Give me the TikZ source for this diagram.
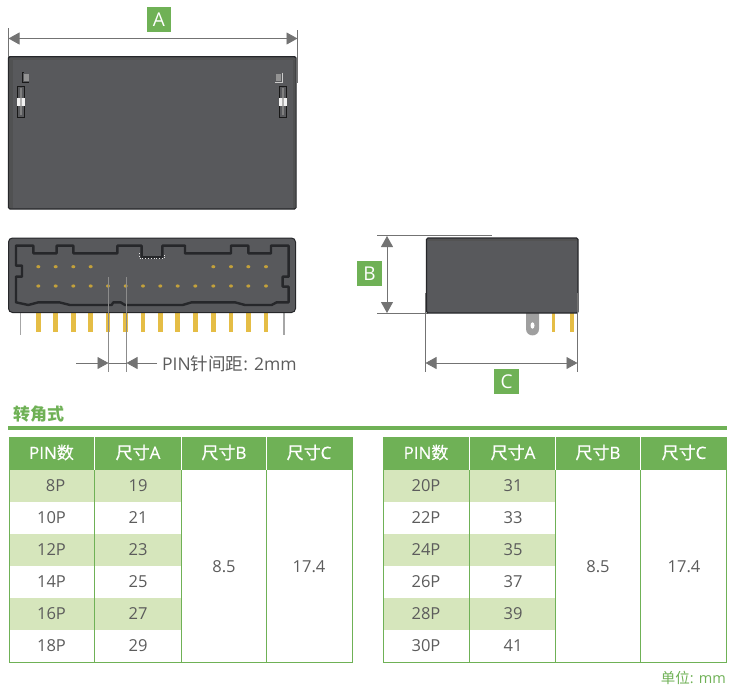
\documentclass[tikz,border=0pt]{standalone}
\usepackage{fontspec}
\setmainfont{Open Sans}
\newfontfamily\cjk{Noto Sans CJK SC}
\newfontfamily\headlat[FakeBold=0.35]{Open Sans}
\newfontfamily\headcjk[FakeBold=0.35]{Noto Sans CJK SC}
\usetikzlibrary{arrows.meta}
\definecolor{gr}{HTML}{6FB156}
\definecolor{lgr}{HTML}{D6E6BC}
\definecolor{txt}{HTML}{5C5C5C}
\definecolor{dim}{HTML}{737373}
\definecolor{body}{HTML}{58595C}
\definecolor{edge}{HTML}{26272A}
\definecolor{pin}{HTML}{E5BD45}
\tikzset{
  lab/.style={fill=gr,text=white,minimum width=24.5pt,minimum height=25pt,inner sep=0pt,font=\fontsize{19}{19}\selectfont},
  dimline/.style={draw=dim,line width=.9pt,{Triangle[length=11pt,width=12pt]}-{Triangle[length=11pt,width=12pt]}},
  oneway/.style={draw=dim,line width=.9pt,-{Triangle[length=11pt,width=12pt]}},
  ext/.style={draw=dim,line width=.8pt},
  bodybox/.style={fill=body,draw=edge,line width=1.4pt,rounded corners=1.5pt},
  pinline/.style={draw=pin,line width=4.5pt},
  greypin/.style={draw=gray!70,line width=1.4pt},
  cell/.style={text=txt,font=\fontsize{16.5}{17}\selectfont,inner sep=0pt},
  head/.style={text=white,font=\headlat\fontsize{17}{17}\selectfont,inner sep=0pt},
  grid/.style={draw=gr,line width=1pt},
  sep/.style={draw=white,line width=1pt}
}
\begin{document}
\begin{tikzpicture}[x=1pt,y=-1pt]
\useasboundingbox (0,0) rectangle (734,694);
% --- top view
\coordinate (a1) at (8.5,38.5); \coordinate (a2) at (297.5,38.5);
\draw[ext] (8.5,28) -- (8.5,80);
\draw[ext] (297.5,30) -- (297.5,83);
\draw[dimline] (a1) -- (a2);
\node[lab] (labA) at (159,19.5) {A};
\path[bodybox] (8.5,56.7) rectangle (296,209);
\fill[black!70,opacity=.6] (9,58) rectangle (12.5,208);
\fill[black!70,opacity=.6] (292.5,58) rectangle (295.5,208);
\fill[gray!65!black] (10,57.5) rectangle (295,59.5);
% latches
\foreach \x/\s in {21/1,283/-1}{
  \draw[black!90,line width=1pt,fill=body] (\x-3.2,86) rectangle (\x+3.2,117);
  \fill[gray] (\x-1.3,88) rectangle (\x+1.3,115);
  \fill[white!90!gray] (\x-4,98) rectangle (\x+4,106);
  \fill[gray!60] (\x-1.2,98) rectangle (\x+1.2,106);
}
\draw[black!90,line width=.9pt] (23.5,72.5) -- (22,72.5) -- (22,82) -- (29,82);
\fill[gray!85] (24,74) rectangle (29,81);
\draw[gray!40,line width=.8pt] (282,72.5) -- (282,82) -- (275,82);
\fill[gray!85] (275.5,74) rectangle (280.5,81);
% --- front view
\foreach \x in {20.5,284}{\draw[greypin] (\x,312) -- (\x,335);}
\foreach \x in {38.3,55.7,73.3,90.7,108,125.7,143,160.3,177.7,195.3,213.3,231,248.3,266}{
  \draw[pinline] (\x,312) -- (\x,332);
}
\path[fill=body,draw=edge,line width=1pt,rounded corners=4pt] (8.5,238) -- (295.5,238) -- (295.5,312.5) -- (8.5,312.5) -- cycle;
\begin{scope}[shift={(0,225)},x=.3333pt,y=-.3333pt]
\draw[edge,line width=2.4pt,line join=round]
 (48,62)--(100,62)--(100,85)--(170,85)--(170,62)--(220,62)--(220,85)--(352,85)--(352,62)--(425,62)--(425,97)--(487,97)--(487,62)--(555,62)--(555,85)--(693,85)--(693,62)--(745,62)--(745,85)--(813,85)--(813,62)--(866,62)--(866,155)--(848,155)--(848,185)--(866,185)--(866,232)--(830,232)--(815,240)--(735,240)--(705,232)--(575,232)--(548,240)--(375,240)--(362,232)--(340,232)--(335,240)--(210,240)--(178,232)--(115,232)--(85,240)--(48,232)--(48,155)--(66,155)--(66,122)--(48,122)--cycle;
\draw[white!80!gray,line width=.8pt,dotted] (418,84)--(418,100)--(494,100)--(494,84);
\end{scope}
\foreach \x in {38.3,55.7,73.3,90.7,108,125.7,143,160.3,177.7,195.3,213.3,231,248.3,266}{
  \fill[pin!85!black] (\x,286) ellipse[x radius=2pt,y radius=1.6pt];
}
\foreach \x in {38.3,55.7,73.3,90.7,213.3,231,248.3,266}{
  \fill[pin!85!black] (\x,266.7) ellipse[x radius=2pt,y radius=1.6pt];
}
% pitch
\draw[ext,draw=gray!90] (108.5,277) -- (108.5,372);
\draw[ext,draw=gray!90] (126.5,277) -- (126.5,372);
\coordinate (p1) at (76,363); \coordinate (p2) at (108.5,363);
\coordinate (p3) at (157,363); \coordinate (p4) at (126.5,363);
\draw[oneway] (p1) -- (p2);
\draw[oneway] (p3) -- (p4);
\draw[ext] (p2) -- (p4);
\node[anchor=west,inner sep=0pt,text=txt,font=\fontsize{17.5}{18}\selectfont] (pitch) at (162,363.5) {PIN{\cjk 针间距}: 2mm};
% --- side view
\draw[ext] (377,235.5) -- (492,235.5);
\draw[ext] (377,313) -- (428,313);
\coordinate (b1) at (387,236); \coordinate (b2) at (387,313);
\draw[dimline] (b1) -- (b2);
\node[lab] (labB) at (369.5,273.5) {B};
\fill[gray!75] (526,313) -- (526,329) .. controls (526,337.5) and (539,337.5) .. (539,329) -- (539,313) -- cycle;
\fill[white] (532.5,325.5) ellipse[x radius=2pt,y radius=3.2pt];
\draw[pinline,line width=3.5pt] (553.5,313) -- (553.5,332);
\draw[pinline,line width=3.5pt] (572,313) -- (572,332);
\path[bodybox] (426.5,238) rectangle (578,313);
\fill[gray!65!black] (427.5,239) rectangle (577,241);
\draw[ext] (425.5,293) -- (425.5,372);
\draw[ext] (577.5,293) -- (577.5,372);
\coordinate (c1) at (425.5,363); \coordinate (c2) at (577.5,363);
\draw[dimline] (c1) -- (c2);
\node[lab] (labC) at (506.5,381.5) {C};
% --- heading
\node[anchor=west,inner sep=0pt,text=gr,font=\cjk\bfseries\fontsize{17}{17}\selectfont] (title) at (13,414) {转角式};
\fill[gr] (8,426) rectangle (727,430);
% --- left table
\fill[gr] (9,437) rectangle (352,470);
\foreach \y in {470,534,598}{\fill[lgr] (9,\y) rectangle (181,\y+32);}
\draw[sep] (94.5,437) -- (94.5,470);
\draw[sep] (181,437) -- (181,470);
\draw[sep] (266.5,437) -- (266.5,470);
\draw[grid] (9,437) -- (9,662.5) -- (352,662.5) -- (352,437);
\draw[grid] (94.5,470) -- (94.5,662.5);
\draw[grid] (181,470) -- (181,662.5);
\draw[grid] (266.5,470) -- (266.5,662.5);
\node[head] (lh1) at (51.5,452.5) {PIN{\headcjk 数}};
\node[head] (lh2) at (138,452.5) {{\headcjk 尺寸}A};
\node[head] (lh3) at (224,452.5) {{\headcjk 尺寸}B};
\node[head] (lh4) at (309,452.5) {{\headcjk 尺寸}C};
\foreach \n/\y/\p/\a/\dx in {1/486/8P/19/4,2/518/10P/21/0,3/550/12P/23/0,4/582/14P/25/0,5/614/16P/27/0,6/646/18P/29/0}{
  \node[cell] (lp\n) at (51.5+\dx,\y) {\p};
  \node[cell] (la\n) at (138,\y) {\a};
}
\node[cell] (lb) at (224,566.5) {8.5};
\node[cell] (lc) at (309,566.5) {17.4};
% --- right table
\fill[gr] (383,437) rectangle (726,470);
\foreach \y in {470,534,598}{\fill[lgr] (383,\y) rectangle (555,\y+32);}
\draw[sep] (469,437) -- (469,470);
\draw[sep] (555,437) -- (555,470);
\draw[sep] (640.5,437) -- (640.5,470);
\draw[grid] (383,437) -- (383,662.5) -- (726,662.5) -- (726,437);
\draw[grid] (469,470) -- (469,662.5);
\draw[grid] (555,470) -- (555,662.5);
\draw[grid] (640.5,470) -- (640.5,662.5);
\node[head] (rh1) at (426,452.5) {PIN{\headcjk 数}};
\node[head] (rh2) at (513,452.5) {{\headcjk 尺寸}A};
\node[head] (rh3) at (598,452.5) {{\headcjk 尺寸}B};
\node[head] (rh4) at (684,452.5) {{\headcjk 尺寸}C};
\foreach \n/\y/\p/\a in {1/486/20P/31,2/518/22P/33,3/550/24P/35,4/582/26P/37,5/614/28P/39,6/646/30P/41}{
  \node[cell] (rp\n) at (426,\y) {\p};
  \node[cell] (ra\n) at (513,\y) {\a};
}
\node[cell] (rb) at (598,566.5) {8.5};
\node[cell] (rc) at (684,566.5) {17.4};
\node[anchor=east,inner sep=0pt,text=gr,font=\fontsize{14.5}{15}\selectfont] (unit) at (726,678) {{\cjk 单位}: mm};
\end{tikzpicture}
\end{document}
